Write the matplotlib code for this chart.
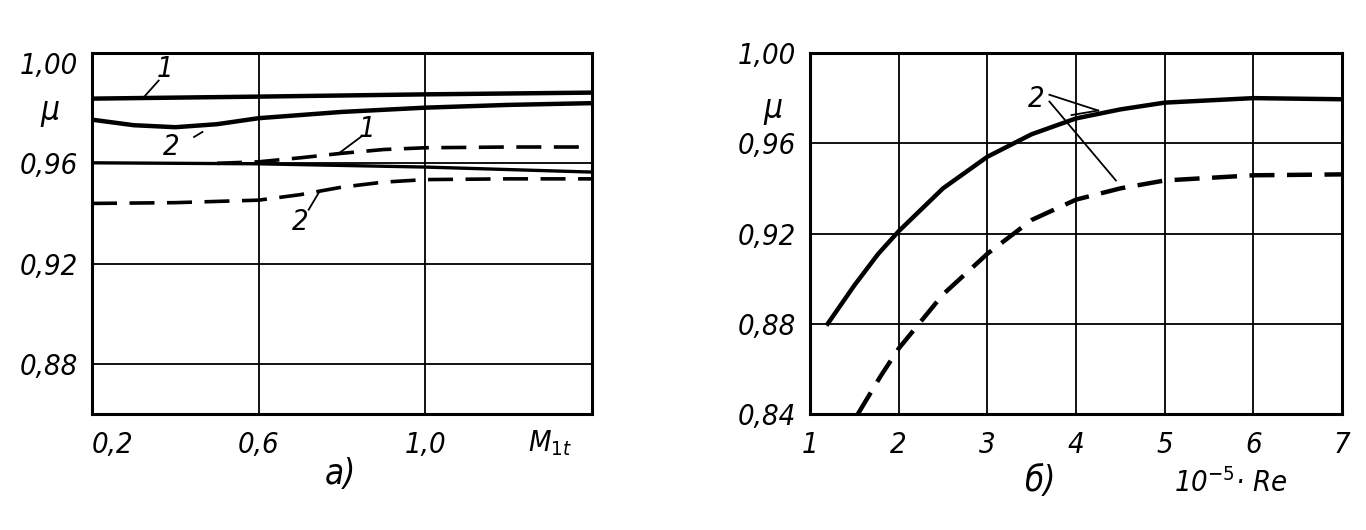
import matplotlib
matplotlib.use("Agg")
import matplotlib.pyplot as plt

# ===============================================================================
#       DATA
# ===============================================================================
# Panel a) : mu vs M1t
A_X_TICKS = [0.2, 0.6, 1.0]
A_X_LABELS = ["0,2", "0,6", "1,0"]
A_Y_TICKS = [0.88, 0.92, 0.96, 1.00]
A_Y_LABELS = ["0,88", "0,92", "0,96", "1,00"]

A_S1_X = [0.2, 0.6, 1.0, 1.4]
A_S1_Y = [0.9858, 0.9866, 0.9875, 0.9882]

A_S2_X = [0.2, 0.3, 0.4, 0.5, 0.6, 0.8, 1.0, 1.2, 1.4]
A_S2_Y = [0.9774, 0.9752, 0.9744, 0.9756, 0.9780, 0.9805, 0.9822, 0.9833, 0.9840]

A_S3_X = [0.2, 0.6, 1.0, 1.4]
A_S3_Y = [0.9602, 0.9598, 0.9585, 0.9565]

A_D1_X = [0.5, 0.6, 0.7, 0.8, 0.9, 1.0, 1.2, 1.4]
A_D1_Y = [0.9600, 0.9606, 0.9622, 0.9640, 0.9655, 0.9662, 0.9665, 0.9665]

A_D2_X = [0.2, 0.4, 0.6, 0.7, 0.8, 0.9, 1.0, 1.2, 1.4]
A_D2_Y = [0.9440, 0.9443, 0.9453, 0.9475, 0.9505, 0.9525, 0.9535, 0.9538, 0.9538]

# Panel b) : mu vs 10^-5 Re
B_X_TICKS = [1, 2, 3, 4, 5, 6, 7]
B_X_LABELS = ["1", "2", "3", "4", "5", "6", "7"]
B_Y_TICKS = [0.84, 0.88, 0.92, 0.96, 1.00]
B_Y_LABELS = ["0,84", "0,88", "0,92", "0,96", "1,00"]

B_S_X = [1.2, 1.5, 1.77, 2.0, 2.5, 3.0, 3.5, 4.0, 4.5, 5.0, 5.5, 6.0, 7.0]
B_S_Y = [0.880, 0.897, 0.911, 0.921, 0.940, 0.954, 0.964, 0.971, 0.975, 0.978, 0.979, 0.980, 0.9795]

B_D_X = [1.54, 1.8, 2.0, 2.5, 3.0, 3.5, 4.0, 4.5, 5.0, 6.0, 7.0]
B_D_Y = [0.840, 0.857, 0.869, 0.893, 0.911, 0.926, 0.935, 0.940, 0.9435, 0.9458, 0.9462]

# ===============================================================================
#       PLOT CONFIGURATIONS
# ===============================================================================
plt.rcParams['font.family'] = ['DejaVu Sans']
plt.rcParams['font.stretch'] = 'condensed'
plt.rcParams['lines.scale_dashes'] = False
FONT = dict(style="italic", fontsize=21, color="black")
FRAME_LW = 2.2
GRID_LW = 1.3
CURVE_LW = 3.2
DASH = (18, 9)

W, H = 1366, 530
fig = plt.figure(figsize=(W / 100, H / 100), dpi=100)
ax_a = fig.add_axes([92 / W, 1 - 414 / H, 500 / W, 361 / H])
ax_b = fig.add_axes([810 / W, 1 - 414 / H, 532 / W, 361 / H])


def style_axes(ax, xt, xl, yt, yl):
    ax.set_xticks(xt)
    ax.set_xticklabels(xl, **FONT)
    ax.set_yticks(yt)
    ax.set_yticklabels(yl, **FONT)
    ax.tick_params(axis="x", length=0, pad=12)
    ax.tick_params(axis="y", length=0, pad=10)
    for sp in ax.spines.values():
        sp.set_linewidth(FRAME_LW)
    ax.grid(True, color="black", linewidth=GRID_LW)
    ax.set_axisbelow(True)


# ===============================================================================
#       PANEL a)
# ===============================================================================
style_axes(ax_a, A_X_TICKS, A_X_LABELS, A_Y_TICKS, A_Y_LABELS)
ax_a.set_xlim(0.2, 1.4)
ax_a.set_ylim(0.86, 1.004)
ax_a.get_xticklabels()[0].set_horizontalalignment("left")
ax_a.get_ygridlines()[-1].set_visible(False)

ax_a.plot(A_S1_X, A_S1_Y, "k-", lw=CURVE_LW)
ax_a.plot(A_S2_X, A_S2_Y, "k-", lw=CURVE_LW)
ax_a.plot(A_S3_X, A_S3_Y, "k-", lw=2.4)
ax_a.plot(A_D1_X, A_D1_Y, "k-", lw=2.6, dashes=DASH)
ax_a.plot(A_D2_X, A_D2_Y, "k-", lw=2.6, dashes=DASH)

# curve labels with leaders
ax_a.text(0.375, 0.9975, "1", ha="center", va="center", **FONT)
ax_a.plot([0.36, 0.325], [0.993, 0.9865], "k-", lw=1.3)
ax_a.text(0.39, 0.9665, "2", ha="center", va="center", **FONT)
ax_a.plot([0.445, 0.465], [0.9705, 0.9725], "k-", lw=1.3)
ax_a.text(0.86, 0.9735, "1", ha="center", va="center", **FONT)
ax_a.plot([0.845, 0.795], [0.9705, 0.9643], "k-", lw=1.3)
ax_a.text(0.70, 0.9365, "2", ha="center", va="center", **FONT)
ax_a.plot([0.72, 0.745], [0.9415, 0.9485], "k-", lw=1.3)

ax_a.text(-0.084, 0.981, "μ", transform=ax_a.get_yaxis_transform(),
          ha="center", va="center", **dict(FONT, fontsize=24))
ax_a.text(1.30, -0.08, "M$_{1t}$", transform=ax_a.get_xaxis_transform(),
          ha="center", va="center", **FONT)
ax_a.text(0.795, -0.165, "а)", transform=ax_a.get_xaxis_transform(),
          ha="center", va="center", **dict(FONT, fontsize=25))

# ===============================================================================
#       PANEL b)
# ===============================================================================
style_axes(ax_b, B_X_TICKS, B_X_LABELS, B_Y_TICKS, B_Y_LABELS)
ax_b.set_xlim(1, 7)
ax_b.set_ylim(0.84, 1.00)

ax_b.plot(B_S_X, B_S_Y, "k-", lw=CURVE_LW)
ax_b.plot(B_D_X, B_D_Y, "k-", lw=CURVE_LW, dashes=DASH)

ax_b.text(3.55, 0.9795, "2", ha="center", va="center", **FONT)
ax_b.plot([3.7, 4.25], [0.9815, 0.9745], "k-", lw=1.3)
ax_b.plot([3.95, 4.25], [0.9725, 0.9745], "k-", lw=1.3)
ax_b.plot([3.7, 4.45], [0.9785, 0.9435], "k-", lw=1.3)

ax_b.text(-0.07, 0.9756, "μ", transform=ax_b.get_yaxis_transform(),
          ha="center", va="center", **dict(FONT, fontsize=24))
ax_b.text(5.74, -0.19, "10$^{-5}$· Re", transform=ax_b.get_xaxis_transform(),
          ha="center", va="center", **FONT)
ax_b.text(3.59, -0.185, "б)", transform=ax_b.get_xaxis_transform(),
          ha="center", va="center", **dict(FONT, fontsize=25))

fig.savefig("out.png", dpi=100)
